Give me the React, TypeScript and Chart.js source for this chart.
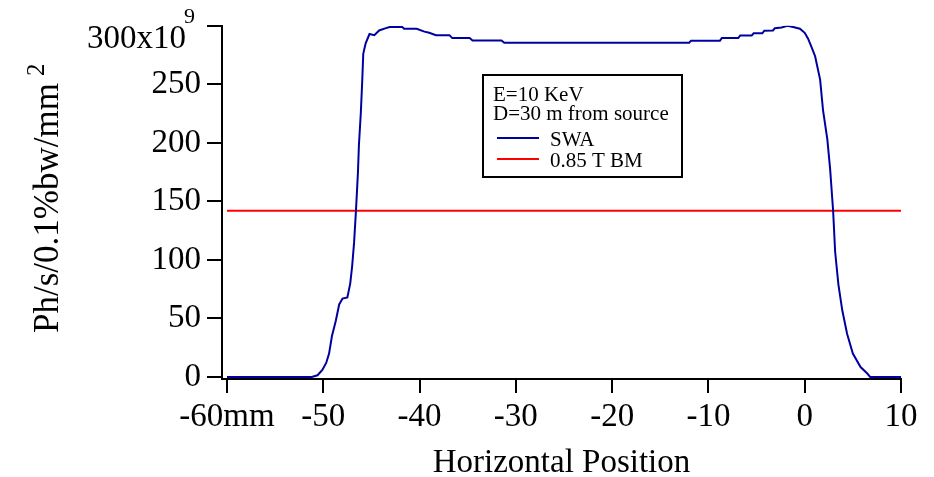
import { useEffect, useRef } from 'react';
import { Chart, registerables } from 'chart.js';

Chart.register(...registerables);

const FAMILY = "'Liberation Serif', 'Times New Roman', serif";

// SWA flux profile (x in mm, y in units of 10^9 Ph/s/0.1%bw/mm^2)
const swaX = [-60, -51.2, -50.6, -50.1, -49.7, -49.4, -49.1, -48.7, -48.35, -48.0, -47.5, -47.2, -47.0, -46.8, -46.6, -46.4, -46.3, -46.1, -45.95, -45.85, -45.6, -45.2, -44.7, -44.2, -43.5, -43.1, -41.8, -41.6, -40.3, -39.5, -39.0, -38.3, -36.9, -36.6, -34.8, -34.5, -31.5, -31.2, -12.0, -11.8, -8.8, -8.6, -6.9, -6.7, -5.5, -5.3, -4.4, -4.2, -3.3, -3.1, -2.4, -1.8, -1.2, -0.5, 0.0, 0.35, 0.7, 1.08, 1.6, 1.9, 2.35, 2.64, 2.95, 3.16, 3.5, 3.9, 4.4, 5.0, 5.8, 6.5, 6.8, 10];
const swaY = [0, 0, 1.5, 6, 12, 20, 35, 48, 62, 67, 68, 80, 95, 115, 143, 175, 198, 226, 254, 276, 285, 293, 292, 296, 298, 299, 299, 297.5, 297.5, 295, 294, 292, 292, 289.5, 289.5, 287.5, 287.5, 285.5, 285.5, 287.3, 287.3, 289.6, 289.6, 291.8, 291.8, 293.6, 293.6, 295.8, 296, 298, 298.5, 300, 299, 297.5, 294, 289, 282, 274, 254, 228, 203, 177.5, 142, 107, 79, 57, 37, 20, 8.5, 3, 0, 0];

// 0.85 T bending magnet level
const bmX = [-60, 10];
const bmY = [142, 142];

const xTicks = [-60, -50, -40, -30, -20, -10, 0, 10];
const yTicks = [0, 50, 100, 150, 200, 250, 300];
const xTickLabels = ['-60mm', '-50', '-40', '-30', '-20', '-10', '0', '10'];
const yTopLabel = '300x10';
const yTopExponent = '9';

const xTitle = 'Horizontal Position';
const yTitle = 'Ph/s/0.1%bw/mm';
const yTitleExponent = '2';
const legendInfo = ['E=10 KeV', 'D=30 m from source'];
const seriesLabels = ['SWA', '0.85 T BM'];
const seriesColors = ['#0000a0', '#ff0000'];

const extrasPlugin = {
  id: 'igorExtras',
  afterDraw(chart: any) {
    const ctx = chart.ctx as CanvasRenderingContext2D;
    const ys = chart.scales.y;
    ctx.save();
    ctx.fillStyle = '#000';
    ctx.textBaseline = 'alphabetic';

    // top y tick label with exponent
    const pTop = ys.getPixelForValue(yTicks[yTicks.length - 1]);
    ctx.font = `33px ${FAMILY}`;
    ctx.textAlign = 'right';
    ctx.fillText(yTopLabel, 186, pTop + 22.5);
    ctx.font = `22px ${FAMILY}`;
    ctx.textAlign = 'left';
    ctx.fillText(yTopExponent, 184, pTop - 2.5);

    // y axis title
    ctx.save();
    ctx.translate(58, 333);
    ctx.rotate(-Math.PI / 2);
    ctx.font = `35px ${FAMILY}`;
    ctx.textAlign = 'left';
    ctx.fillText(yTitle, 0, 0);
    const w = ctx.measureText(yTitle).width;
    ctx.font = `25px ${FAMILY}`;
    ctx.fillText(yTitleExponent, w + 7, -14);
    ctx.restore();

    // legend box
    ctx.strokeStyle = '#000';
    ctx.lineWidth = 2;
    ctx.strokeRect(483, 75, 199, 102);
    ctx.font = `21px ${FAMILY}`;
    ctx.textAlign = 'left';
    ctx.fillText(legendInfo[0], 493, 100.5);
    ctx.fillText(legendInfo[1], 493, 119.5);
    const baselines = [145.5, 166.5];
    chart.data.datasets.forEach((ds: any, i: number) => {
      const b = baselines[i];
      ctx.strokeStyle = ds.borderColor;
      ctx.lineWidth = 2;
      ctx.beginPath();
      ctx.moveTo(497, b - 7.5);
      ctx.lineTo(539, b - 7.5);
      ctx.stroke();
      ctx.fillStyle = '#000';
      ctx.fillText(ds.label, 550, b);
    });
    ctx.restore();
  },
};

export default function App() {
  const ref = useRef<HTMLCanvasElement | null>(null);
  useEffect(() => {
    if (!ref.current) return;
    const chart = new Chart(ref.current, {
      type: 'scatter',
      data: {
        datasets: [
          {
            label: seriesLabels[0],
            data: swaX.map((x, i) => ({ x, y: swaY[i] })),
            showLine: true,
            borderColor: seriesColors[0],
            backgroundColor: seriesColors[0],
            borderWidth: 2,
            pointRadius: 0,
            tension: 0,
          },
          {
            label: seriesLabels[1],
            data: bmX.map((x, i) => ({ x, y: bmY[i] })),
            showLine: true,
            borderColor: seriesColors[1],
            backgroundColor: seriesColors[1],
            borderWidth: 2,
            pointRadius: 0,
            tension: 0,
          },
        ],
      },
      options: {
        responsive: false,
        animation: false,
        devicePixelRatio: 1,
        layout: { padding: { top: 22, right: 33, left: 0, bottom: 0 } },
        plugins: { legend: { display: false }, tooltip: { enabled: false }, title: { display: false } },
        scales: {
          x: {
            type: 'linear',
            min: -60.52,
            max: 10,
            afterBuildTicks: (s: any) => {
              s.ticks = xTicks.map((v) => ({ value: v }));
            },
            afterFit: (s: any) => {
              s.height = 98;
            },
            ticks: {
              autoSkip: false,
              maxRotation: 0,
              padding: 5,
              color: '#000',
              font: { family: FAMILY, size: 33 },
              callback: (v: any) => {
                const i = xTicks.indexOf(Number(v));
                return i >= 0 ? xTickLabels[i] : '';
              },
            },
            grid: { drawOnChartArea: false, drawTicks: true, tickLength: 14, color: '#000', lineWidth: 2 },
            border: { display: true, color: '#000', width: 2 },
            title: { display: true, text: xTitle, color: '#000', font: { family: FAMILY, size: 33 }, padding: { top: 0, bottom: -6 } },
          },
          y: {
            type: 'linear',
            min: -1.69,
            max: 300,
            afterBuildTicks: (s: any) => {
              s.ticks = yTicks.map((v) => ({ value: v }));
            },
            afterFit: (s: any) => {
              s.width = 222;
            },
            ticks: {
              autoSkip: false,
              padding: 6,
              color: '#000',
              font: { family: FAMILY, size: 33 },
              callback: (v: any) => (Number(v) === 300 ? '' : String(v)),
            },
            grid: { drawOnChartArea: false, drawTicks: true, tickLength: 15, color: '#000', lineWidth: 2 },
            border: { display: true, color: '#000', width: 2 },
          },
        },
      },
      plugins: [extrasPlugin],
    } as any);
    return () => chart.destroy();
  }, []);
  return (
    <div style={{ position: 'absolute', left: 0, top: 0, width: 934, height: 477, background: '#fff' }}>
      <canvas ref={ref} width={934} height={477} />
    </div>
  );
}
